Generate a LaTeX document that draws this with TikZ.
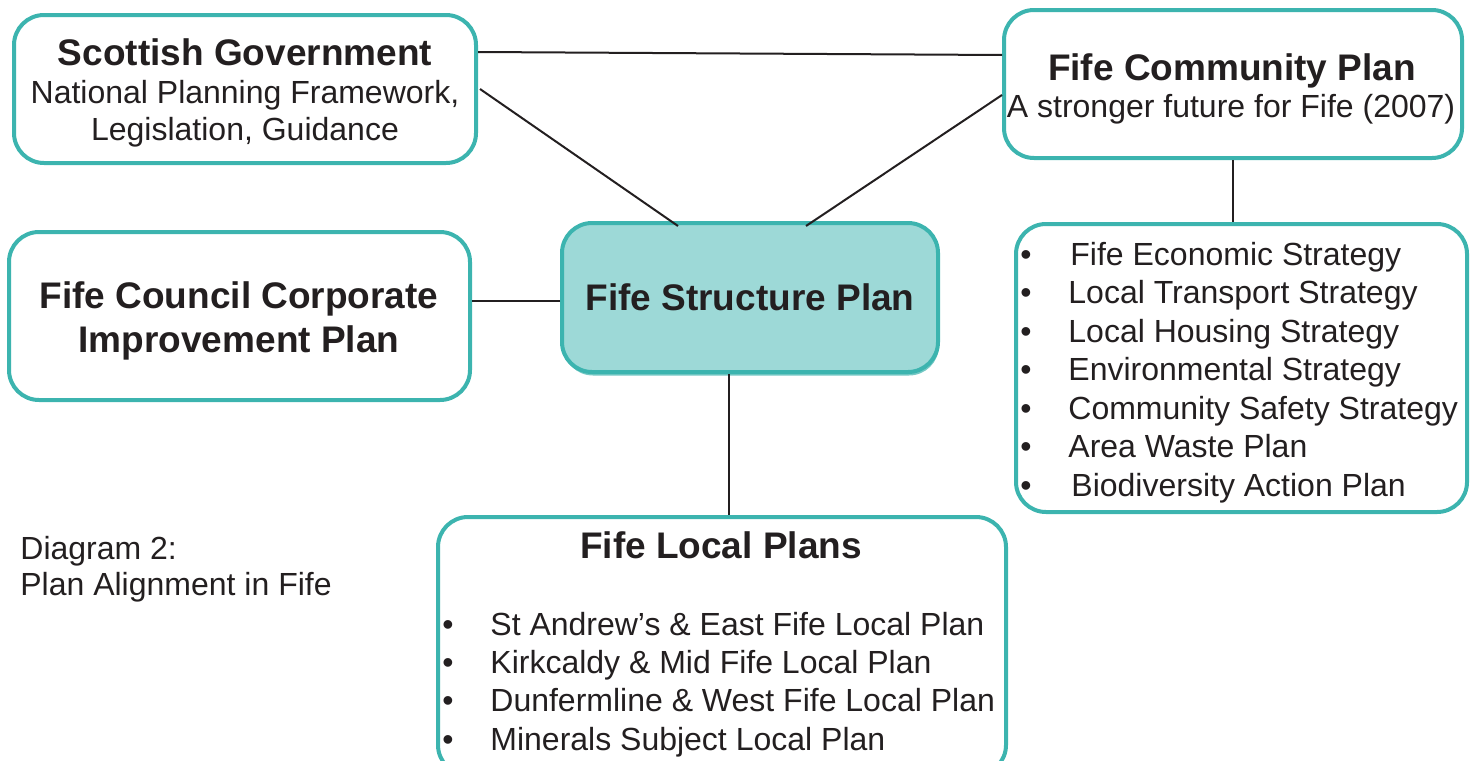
\documentclass[tikz,border=0pt]{standalone}
\usepackage{fontspec}
\setmainfont{Liberation Sans}
\definecolor{teal1}{HTML}{3CB4AF}
\definecolor{tealfill}{HTML}{9DD9D7}
\definecolor{tealshadow}{HTML}{74C8C4}
\definecolor{ink}{HTML}{231F20}
\tikzset{
  box/.style={draw=teal1, line width=2pt, rounded corners=15pt, fill=white, inner sep=0pt},
  conn/.style={draw=ink, line width=1pt},
  bold/.style={font=\fontsize{18.5}{22}\selectfont\bfseries, text=ink, anchor=base, inner sep=0pt},
  norm/.style={font=\fontsize{16}{19}\selectfont, text=ink, anchor=base, inner sep=0pt},
  lnorm/.style={norm, anchor=base west},
}
\begin{document}
\begin{tikzpicture}[x=0.5pt, y=-0.5pt]
\useasboundingbox (0,0) rectangle (1475,760);
% boxes
\node[box, minimum width=231pt, minimum height=74pt] (sg) at (245,89) {};
\node[box, minimum width=229pt, minimum height=74pt] (fcp) at (1233,84) {};
\node[box, minimum width=230.5pt, minimum height=84pt] (corp) at (239.5,316) {};
\node[draw=none, fill=tealshadow, rounded corners=15pt, inner sep=0pt, minimum width=188pt, minimum height=74.5pt] (fspshadow) at (751,301) {};
\node[box, fill=tealfill, minimum width=188pt, minimum height=74.5pt] (fsp) at (750,297.5) {};
\node[box, minimum width=225.5pt, minimum height=144pt] (strat) at (1241.5,368) {};
\node[box, minimum width=284pt, minimum height=129pt] (local) at (722,646) {};
% connectors
\draw[conn] ([yshift=18.5pt]sg.east) -- ([yshift=14.5pt]fcp.west);
\draw[conn] ([xshift=1pt]sg.east) -- ([xshift=-36pt,yshift=-2.5pt]fsp.north);
\draw[conn] ([yshift=-5.5pt]fcp.west) -- ([xshift=28pt,yshift=-2.5pt]fsp.north);
\draw[conn] (fcp.south) -- (fcp.south |- strat.north);
\draw[conn] ([yshift=-1.5pt]fsp.west) -- ([yshift=-1.5pt]fsp.west -| corp.east);
\draw[conn] ([xshift=-10.5pt]fsp.south) -- ([xshift=3.5pt]local.north);
% texts
\node[bold] (sg1) at (245,65) {Scottish Government};
\node[norm] (sg2) at (245,103) {National Planning Framework,};
\node[norm] (sg3) at (245,140) {Legislation, Guidance};
\node[bold] (fcp1) at (1232,80) {Fife Community Plan};
\node[norm] (fcp2) at (1231,117) {A stronger future for Fife (2007)};
\node[bold] (corp1) at (239,308) {Fife Council Corporate};
\node[bold] (corp2) at (239,352) {Improvement Plan};
\node[bold] (fsp1) at (750,310) {Fife Structure Plan};
\node[bold] (loc0) at (721,558) {Fife Local Plans};
% strategies
\foreach \t/\y/\n [count=\i] in {Fife Economic Strategy/265.5/1070, Local Transport Strategy/303.5/1068, Local Housing Strategy/342/1068, Environmental Strategy/380.5/1068, Community Safety Strategy/419/1068, Area Waste Plan/457.5/1068, Biodiversity Action Plan/496/1071}{
  \node[lnorm] (sb\i) at (1020,\y) {•};
  \node[lnorm] (st\i) at (\n,\y) {\t};
}
% local plans
\foreach \t/\y [count=\i] in {St Andrew’s \& East Fife Local Plan/635.5, Kirkcaldy \& Mid Fife Local Plan/673.5, Dunfermline \& West Fife Local Plan/711.5, Minerals Subject Local Plan/750.5}{
  \node[lnorm] (lb\i) at (442,\y) {•};
  \node[lnorm] (lt\i) at (490,\y) {\t};
}
\node[lnorm] (cap1) at (20,559.5) {Diagram 2:};
\node[lnorm] (cap2) at (20,595.5) {Plan Alignment in Fife};
\end{tikzpicture}
\end{document}
